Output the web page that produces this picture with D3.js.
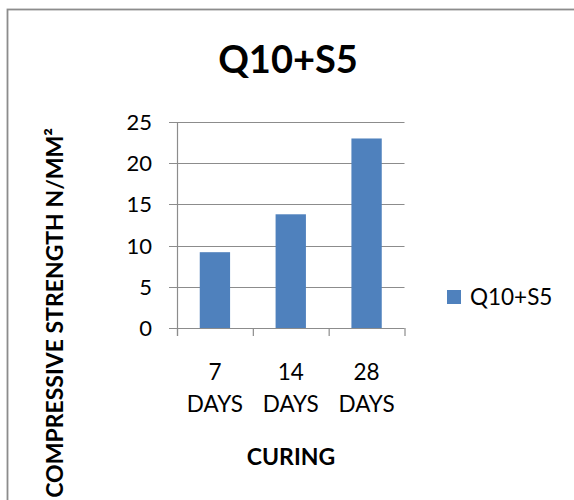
<!DOCTYPE html>
<html>
<head>
<meta charset="utf-8">
<script src="https://cdn.jsdelivr.net/npm/d3@7"></script>
<style>
  body { margin: 0; background: #fff; }
  text { font-family: Lato, "Open Sans", sans-serif; fill: #000; }
</style>
</head>
<body>
<div id="chart"></div>
<script>
// chart data
const categories = [["7", "DAYS"], ["14", "DAYS"], ["28", "DAYS"]];
const values = [9.2, 13.8, 23.0];
const seriesName = 'Q10+S5';
const yTicks = [0, 5, 10, 15, 20, 25];

const W = 574, H = 500;
const svg = d3.select('#chart').append('svg')
    .attr('width', W)
    .attr('height', H);

// outer chart border (cropped at right and bottom)
svg.append('rect')
  .attr('x', 7.5).attr('y', 9.5)
  .attr('width', 700).attr('height', 700)
  .attr('fill', 'none')
  .attr('stroke', '#8c8c8c')
  .attr('stroke-width', 1.8);

const plot = { left: 177, right: 404.5, top: 122, bottom: 328 };

const x = d3.scaleBand()
  .domain(d3.range(categories.length))
  .range([plot.left, plot.right])
  .paddingInner(0.6)
  .paddingOuter(0.3);

const y = d3.scaleLinear()
  .domain([0, 25])
  .range([plot.bottom, plot.top]);

// gridlines
svg.append('g').selectAll('line')
  .data(yTicks)
  .join('line')
    .attr('x1', plot.left - 8)
    .attr('x2', plot.right)
    .attr('y1', d => Math.round(y(d)) + 0.5)
    .attr('y2', d => Math.round(y(d)) + 0.5)
    .attr('stroke', '#8c8c8c')
    .attr('stroke-width', 1.2);

// bars
svg.append('g').selectAll('rect')
  .data(values)
  .join('rect')
    .attr('x', (d, i) => x(i))
    .attr('y', d => y(d))
    .attr('width', x.bandwidth())
    .attr('height', d => plot.bottom - y(d))
    .attr('fill', '#4f81bd');

// y axis line
svg.append('line')
  .attr('x1', plot.left + 0.5).attr('x2', plot.left + 0.5)
  .attr('y1', plot.top).attr('y2', plot.bottom + 8)
  .attr('stroke', '#8c8c8c')
  .attr('stroke-width', 1.2);

// x category ticks
const step = (plot.right - plot.left) / categories.length;
svg.append('g').selectAll('line')
  .data(d3.range(categories.length + 1))
  .join('line')
    .attr('x1', i => plot.left + i * step + 0.5)
    .attr('x2', i => plot.left + i * step + 0.5)
    .attr('y1', plot.bottom)
    .attr('y2', plot.bottom + 8)
    .attr('stroke', '#8c8c8c')
    .attr('stroke-width', 1.2);

// y tick labels
svg.append('g').selectAll('text')
  .data(yTicks)
  .join('text')
    .attr('x', 152)
    .attr('y', d => y(d))
    .attr('dy', '0.36em')
    .attr('text-anchor', 'end')
    .style('font-size', '22px')
    .text(d => d);

// x tick labels
const xl = svg.append('g').selectAll('text')
  .data(categories)
  .join('text')
    .attr('text-anchor', 'middle')
    .style('font-size', '22.5px');
xl.append('tspan')
  .attr('x', (d, i) => x(i) + x.bandwidth() / 2)
  .attr('y', 380)
  .text(d => d[0]);
xl.append('tspan')
  .attr('x', (d, i) => x(i) + x.bandwidth() / 2)
  .attr('y', 412)
  .text(d => d[1]);

// title
svg.append('text')
  .attr('x', 288)
  .attr('y', 73)
  .attr('text-anchor', 'middle')
  .style('font-size', '38px')
  .style('font-weight', 'bold')
  .text(seriesName);

// axis titles
svg.append('text')
  .attr('x', 291)
  .attr('y', 465)
  .attr('text-anchor', 'middle')
  .style('font-size', '23px')
  .style('font-weight', 'bold')
  .text('CURING');

svg.append('text')
  .attr('transform', 'translate(63,128) rotate(-90)')
  .attr('text-anchor', 'end')
  .style('font-size', '23px')
  .style('font-weight', 'bold')
  .text('COMPRESSIVE STRENGTH N/MM²');

// legend
svg.append('rect')
  .attr('x', 447).attr('y', 290)
  .attr('width', 14).attr('height', 14)
  .attr('fill', '#4f81bd');
svg.append('text')
  .attr('x', 470)
  .attr('y', 305)
  .style('font-size', '22.5px')
  .text(seriesName);
</script>
</body>
</html>
